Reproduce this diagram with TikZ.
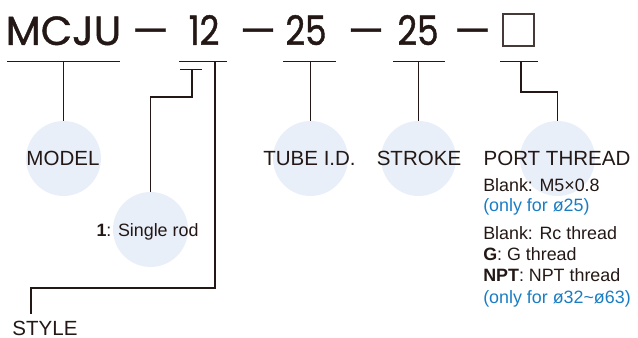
\documentclass[tikz,border=0pt]{standalone}
\usepackage{fontspec}
\setmainfont{Liberation Sans}
\newfontfamily\titlefont{Poppins}[FakeBold=1]
\newfontfamily\digitfont{Poppins}[FakeBold=1,FakeStretch=0.84]
\definecolor{ink}{HTML}{231815}
\definecolor{bub}{HTML}{E9EFF9}
\definecolor{note}{HTML}{1A7DC4}
\begin{document}
\begin{tikzpicture}[x=0.75pt,y=-0.75pt,
  ttl/.style={font=\titlefont\fontsize{30.5}{31}\selectfont, text=ink, anchor=base, inner sep=0},
  dgt/.style={font=\digitfont\fontsize{30.5}{31}\selectfont, text=ink, anchor=base, inner sep=0},
  lbl/.style={font=\fontsize{15.4}{16}\selectfont, text=ink, inner sep=0, anchor=base},
  sml/.style={font=\fontsize{13.4}{14}\selectfont, text=ink, inner sep=0, anchor=base west},
  blue/.style={text=note},
  bubble/.style={circle, fill=bub, minimum size=56.25pt, inner sep=0},
  ul/.style={draw=ink, line width=0.75pt},
  conn/.style={draw=ink, line width=1.1pt}]
\useasboundingbox (0,0) rectangle (638,338);
% bubbles
\node[bubble] (b1) at (63.5,158.5) {};
\node[bubble] (b2) at (150.5,229.5) {};
\node[bubble] (b3) at (310.5,158.5) {};
\node[bubble] (b4) at (418.5,158.5) {};
\node[bubble] (b5) at (557.5,158.5) {};
% title
\node[ttl] (tm) at (63.5,45) {MCJU};
\node[ttl] (d1) at (150.5,45) {—};
\node[dgt] (t12) at (204,45) {12};
\node[ttl] (d2) at (258,45) {—};
\node[dgt] (t25a) at (306,45) {25};
\node[ttl] (d3) at (366,45) {—};
\node[dgt] (t25b) at (418,45) {25};
\node[ttl] (d4) at (472.5,45) {—};
\node[draw=ink!85, line width=1.5pt, minimum width=23.25pt, minimum height=24pt, inner sep=0] (box) at (518.5,30) {};
% labels
\node[lbl] (lm) at (63,165.5) {MODEL};
\node[lbl] (lt) at (309.5,165.5) {TUBE I.D.};
\node[lbl] (ls) at (419,165.5) {STROKE};
\node[lbl] (lp) at (557,165.5) {PORT THREAD};
\node[lbl] (ly) at (45,335.5) {STYLE};
\node[sml, anchor=base] (lr) at (147.5,237) {\textbf{1}: Single rod};
\node[sml] (n1) at (483,192) {Blank: M5×0.8};
\node[sml, blue] (n2) at (483,212) {(only for ø25)};
\node[sml] (n3) at (483,239) {Blank: Rc thread};
\node[sml] (n4) at (483,260.5) {\textbf{G}: G thread};
\node[sml] (n5) at (483,281.5) {\textbf{NPT}: NPT thread};
\node[sml, blue] (n6) at (483,303) {(only for ø32\char"007E ø63)};
% underlines
\draw[ul] (7,62) -- (120,62);
\draw[ul] (179,62) -- (227,62);
\draw[ul] (283,62) -- (336,62);
\draw[ul] (393,62) -- (445,62);
\draw[ul] (500,62) -- (538,62);
\draw[ul] (180,70) -- (202,70);
% connector anchors
\coordinate (c1) at (63.5,62);
\coordinate (c2) at (192,70);
\coordinate (c3) at (215,62);
\coordinate (c4) at (310.5,62);
\coordinate (c5) at (418.5,62);
\coordinate (c6) at (521,62);
\coordinate (sty) at (31,314);
% connectors
\draw[conn] (c1) -- (b1.north);
\draw[conn] (c2) -- ++(0,27) -| (b2.north);
\draw[conn] (c3) -- ++(0,226) -| (sty);
\draw[conn] (c4) -- (b3.north);
\draw[conn] (c5) -- (b4.north);
\draw[conn] (c6) -- ++(0,30) -| (b5.north);
\end{tikzpicture}
\end{document}
